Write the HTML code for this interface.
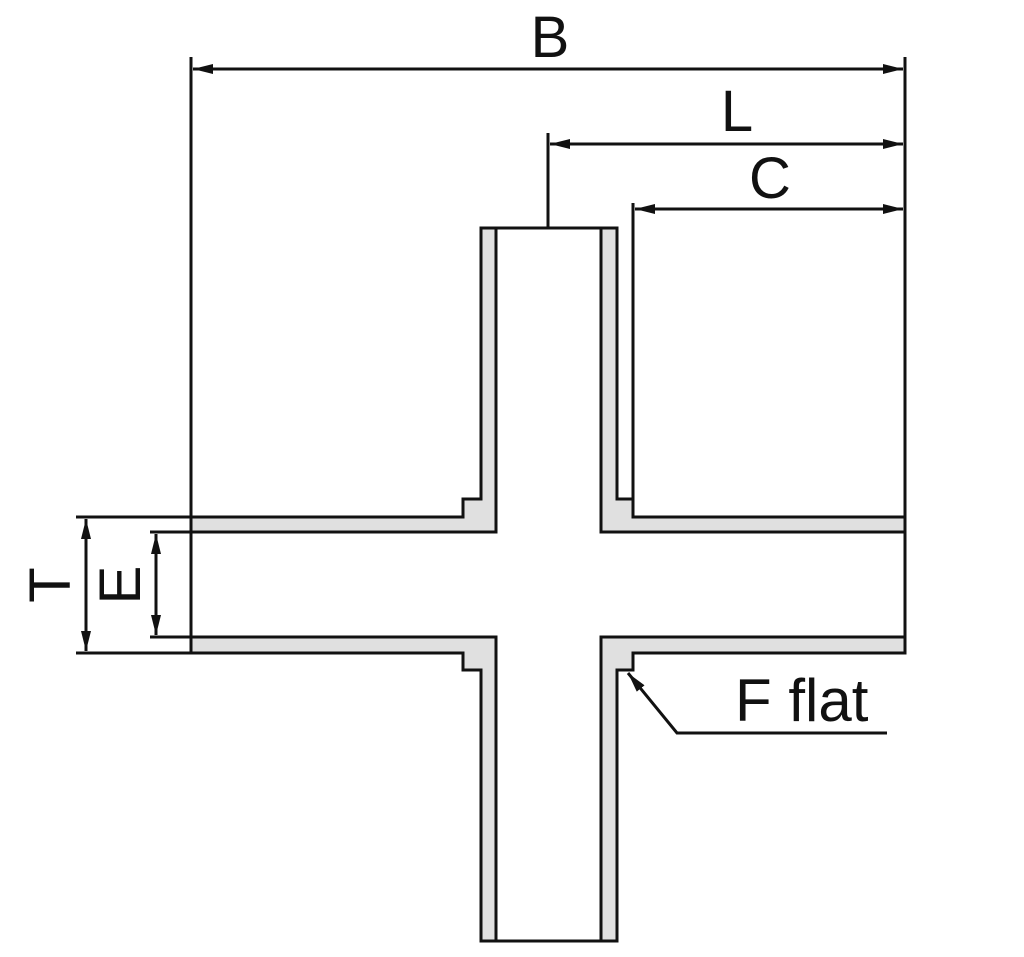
<!DOCTYPE html>
<html><head><style>html,body{margin:0;padding:0;background:#fff}svg{display:block}</style></head>
<body>
<svg width="1024" height="957" viewBox="0 0 1024 957" xmlns="http://www.w3.org/2000/svg">
<defs>
<marker id="a" viewBox="0 0 20 10" refX="20" refY="5" markerWidth="20" markerHeight="10" markerUnits="userSpaceOnUse" orient="auto-start-reverse"><path d="M0,0 L20,5 L0,10 Z" fill="#111"/></marker>
</defs>
<g fill="#e0e0e0" stroke="#111" stroke-width="3" stroke-linejoin="miter">
<polygon points="481,228 496,228 496,532 191,532 191,517 463,517 463,499 481,499"/>
<polygon points="601,228 617,228 617,499 633,499 633,517 905,517 905,532 601,532"/>
<polygon points="191,637 496,637 496,941 481,941 481,670 463,670 463,653 191,653"/>
<polygon points="601,637 905,637 905,653 633,653 633,670 617,670 617,941 601,941"/>
</g>
<g stroke="#111" stroke-width="3" fill="none">
<line x1="496" y1="228" x2="601" y2="228"/>
<line x1="496" y1="941" x2="601" y2="941"/>
<line x1="191" y1="57" x2="191" y2="653"/>
<line x1="905" y1="57" x2="905" y2="653"/>
<line x1="548" y1="133" x2="548" y2="228"/>
<line x1="633" y1="203" x2="633" y2="499"/>
<line x1="76" y1="517" x2="191" y2="517"/>
<line x1="76" y1="653" x2="191" y2="653"/>
<line x1="150" y1="532" x2="191" y2="532"/>
<line x1="150" y1="637" x2="191" y2="637"/>
<line x1="193" y1="69" x2="903" y2="69" marker-start="url(#a)" marker-end="url(#a)"/>
<line x1="550" y1="144" x2="903" y2="144" marker-start="url(#a)" marker-end="url(#a)"/>
<line x1="635" y1="209" x2="903" y2="209" marker-start="url(#a)" marker-end="url(#a)"/>
<line x1="86" y1="519" x2="86" y2="651" marker-start="url(#a)" marker-end="url(#a)"/>
<line x1="156" y1="534" x2="156" y2="635" marker-start="url(#a)" marker-end="url(#a)"/>
<polyline points="887,733 677,733 628,673" marker-end="url(#a)"/>
</g>
<g font-family="Liberation Sans, sans-serif" font-size="58" fill="#111">
<text x="550" y="57" text-anchor="middle">B</text>
<text x="737" y="131" text-anchor="middle">L</text>
<text x="770" y="198" text-anchor="middle">C</text>
<text transform="translate(70,585) rotate(-90)" text-anchor="middle">T</text>
<text transform="translate(140,585) rotate(-90)" text-anchor="middle">E</text>
<text x="735" y="721" font-size="60">F flat</text>
</g>
</svg>
</body></html>
